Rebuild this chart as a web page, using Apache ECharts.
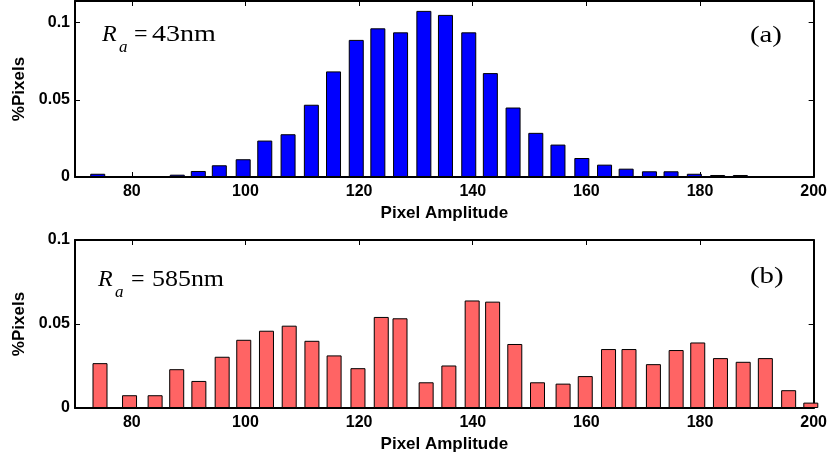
<!DOCTYPE html>
<html>
<head>
<meta charset="utf-8">
<script src="https://cdn.jsdelivr.net/npm/echarts@6/dist/echarts.min.js"></script>
<style>html,body{margin:0;padding:0;background:#fff;}#c{width:830px;height:461px;}</style>
</head>
<body>
<div id="c"></div>
<script>
// Panel (a): Ra = 43nm
const xTop = [74,79.5,83.7,88,91.7,95.4,99.6,103.4,107.5,111.6,115.5,119.5,123.3,127.3,131.4,135.2,139.3,143.1,147.1,151.1,155,159.2,163.2,167,171.1,174.9,179,183.1,187.1];
const yTop = [0.0021,0.0005,0.0005,0.0015,0.0039,0.0076,0.0115,0.0236,0.0277,0.0468,0.0684,0.0888,0.0963,0.0937,0.1076,0.105,0.0937,0.0673,0.045,0.0286,0.021,0.0123,0.008,0.0054,0.0037,0.0037,0.0021,0.0013,0.0013];
// Panel (b): Ra = 585nm
const xBot = [74.4,79.6,84.1,87.9,91.8,95.9,99.7,103.7,107.7,111.7,115.6,119.8,123.9,127.2,131.8,135.8,139.9,143.5,147.4,151.4,155.9,159.8,163.9,167.5,171.8,175.8,179.6,183.6,187.6,191.5,195.6,199.5];
const yBot = [0.0267,0.0076,0.0076,0.0231,0.0161,0.0305,0.0406,0.046,0.049,0.04,0.0313,0.0237,0.0542,0.0534,0.0153,0.0253,0.064,0.0633,0.0381,0.0153,0.0145,0.019,0.0351,0.0351,0.0261,0.0345,0.039,0.0297,0.0275,0.0297,0.0106,0.0032];
const xTicks = [80,100,120,140,160,180,200];
const yTicks = [0,0.05,0.1];
const xName = 'Pixel Amplitude';
const yName = '%Pixels';

const sans = 'Liberation Sans, Arial, sans-serif';
const lblFont = {fontFamily:sans, fontWeight:'bold', fontSize:16, color:'#000'};
const nameFont = {fontFamily:sans, fontWeight:'bold', fontSize:17, color:'#000'};
const line = {show:true, onZero:false, lineStyle:{color:'#000', width:2}};

function xAx(gi, top) {
  return {
    type:'value', gridIndex:gi, min:70, max:200, position: top ? 'top' : 'bottom',
    axisLine: line,
    axisTick:{show:true, inside:true, length:5, customValues:xTicks, lineStyle:{color:'#000', width:1}},
    axisLabel: top ? {show:false} : Object.assign({show:true, margin:7, customValues:xTicks}, lblFont),
    splitLine:{show:false},
    name: top ? '' : xName, nameLocation:'middle', nameGap:28,
    nameTextStyle: nameFont
  };
}
function yAx(gi, max, right) {
  return {
    type:'value', gridIndex:gi, min:0, max:max, position: right ? 'right' : 'left',
    axisLine: line,
    axisTick:{show:true, inside:true, length:5, customValues:yTicks, lineStyle:{color:'#000', width:1}},
    axisLabel: right ? {show:false} : Object.assign({show:true, margin:5, customValues:yTicks}, lblFont),
    splitLine:{show:false},
    name: right ? '' : yName, nameLocation:'middle', nameGap:46, nameRotate:90,
    nameTextStyle: nameFont
  };
}

const chart = echarts.init(document.getElementById('c'), null, {renderer:'canvas'});
const serif = 'Liberation Serif, Times New Roman, serif';
function txt(x, y, s, size, italic, sx) {
  return {type:'text', left:x, top:y, scaleX: sx || 1,
          style:{text:s, font:(italic?'italic ':'') + size + 'px ' + serif, fill:'#000'}};
}
chart.setOption({
  animation:false,
  backgroundColor:'#fff',
  grid:[
    {left:75, right:15, top:1, height:176},
    {left:75, right:15, top:240, height:168}
  ],
  xAxis:[xAx(0,false), xAx(0,true), xAx(1,false), xAx(1,true)],
  yAxis:[yAx(0,0.114,false), yAx(0,0.114,true), yAx(1,0.1,false), yAx(1,0.1,true)],
  series:[
    {type:'bar', xAxisIndex:0, yAxisIndex:0, barWidth:15, clip:true,
     data: xTop.map((x,i)=>[x, yTop[i]]),
     itemStyle:{color:'#0000ff', borderColor:'#000', borderWidth:1}},
    {type:'bar', xAxisIndex:2, yAxisIndex:2, barWidth:15, clip:true,
     data: xBot.map((x,i)=>[x, yBot[i]]),
     itemStyle:{color:'#ff6464', borderColor:'#000', borderWidth:1}}
  ],
  graphic:[
    txt(102, 23, 'R', 24, true),
    txt(119, 39, 'a', 17, true),
    txt(134, 23, '=', 24, false, 1.0),
    txt(152, 23, '43nm', 24, false, 1.17),
    txt(750, 24, '(a)', 24, false, 1.2),
    txt(98, 268, 'R', 24, true),
    txt(115, 284, 'a', 17, true),
    txt(131, 268, '=', 24, false, 1.0),
    txt(152, 268, '585nm', 24, false, 1.08),
    txt(750, 265, '(b)', 24, false, 1.2)
  ]
});
</script>
</body>
</html>
